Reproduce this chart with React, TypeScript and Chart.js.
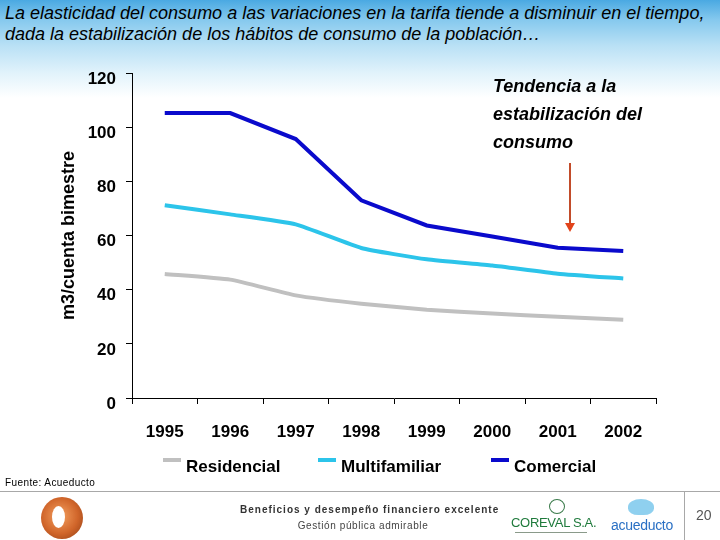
import React, { useEffect, useRef } from "react";
import { Chart, registerables } from "chart.js";

Chart.register(...registerables);

const years = ["1995", "1996", "1997", "1998", "1999", "2000", "2001", "2002"];
const residencial = [45.8, 43.7, 37.9, 34.8, 32.6, 31.2, 30.0, 28.9];
const multifamiliar = [71.2, 67.8, 64.1, 55.4, 51.2, 48.9, 45.9, 44.1];
const comercial = [105.2, 105.2, 95.6, 73.0, 63.7, 59.6, 55.5, 54.3];
const seriesNames = ["Residencial", "Multifamiliar", "Comercial"];
const seriesColors = ["#c0c0c0", "#2cc4ea", "#0a0acc"];
const yMin = 0;
const yMax = 120;
const yStep = 20;

const FONT = "'Liberation Sans', Arial, sans-serif";

const legendMarkerX = [163, 318, 491];

const overlayPlugin = {
  id: "overlayPlugin",
  afterDraw(chart: any) {
    const ctx = chart.ctx as CanvasRenderingContext2D;
    ctx.save();
    // legend
    const datasets = chart.data.datasets;
    datasets.forEach((ds: any, i: number) => {
      const x = legendMarkerX[i];
      ctx.strokeStyle = ds.borderColor;
      ctx.lineWidth = 4;
      ctx.beginPath();
      ctx.moveTo(x, 460);
      ctx.lineTo(x + 18, 460);
      ctx.stroke();
      ctx.fillStyle = "#000";
      ctx.font = `bold 17px ${FONT}`;
      ctx.textBaseline = "middle";
      ctx.textAlign = "left";
      ctx.fillText(ds.label, x + 23, 467);
    });
    // arrow
    ctx.strokeStyle = "#c24c2a";
    ctx.lineWidth = 2;
    ctx.beginPath();
    ctx.moveTo(570, 163);
    ctx.lineTo(570, 225);
    ctx.stroke();
    ctx.fillStyle = "#e2431a";
    ctx.beginPath();
    ctx.moveTo(565, 223);
    ctx.lineTo(575, 223);
    ctx.lineTo(570, 232);
    ctx.closePath();
    ctx.fill();
    ctx.restore();
  },
};

function ChartCanvas() {
  const ref = useRef<HTMLCanvasElement | null>(null);
  useEffect(() => {
    if (!ref.current) return;
    const series = [residencial, multifamiliar, comercial];
    const chart = new Chart(ref.current, {
      type: "line",
      data: {
        labels: years,
        datasets: series.map((d, i) => ({
          label: seriesNames[i],
          data: d,
          borderColor: seriesColors[i],
          backgroundColor: seriesColors[i],
          borderWidth: 4,
          pointRadius: 0,
          tension: i === 2 ? 0 : 0.15,
          fill: false,
        })),
      },
      options: {
        animation: false,
        responsive: false,
        devicePixelRatio: 1,
        layout: { padding: { left: 0, top: 73, right: 64, bottom: 102 } },
        plugins: { legend: { display: false }, tooltip: { enabled: false } },
        scales: {
          x: {
            type: "category",
            offset: true,
            grid: {
              offset: true,
              drawOnChartArea: false,
              tickLength: 6,
              color: "#000",
            },
            border: { color: "#000", width: 1 },
            ticks: {
              color: "#000",
              font: { family: FONT, size: 17, weight: "bold" },
              padding: 18,
              maxRotation: 0,
            },
            afterFit: (s: any) => {
              s.height = 40;
            },
          },
          y: {
            min: yMin,
            max: yMax,
            grid: { drawOnChartArea: false, tickLength: 6, color: "#000" },
            border: { color: "#000", width: 1 },
            ticks: {
              stepSize: yStep,
              color: "#000",
              font: { family: FONT, size: 17, weight: "bold" },
              padding: 10,
              labelOffset: 6,
            },
            title: {
              display: true,
              text: "m3/cuenta bimestre",
              color: "#000",
              font: { family: FONT, size: 18, weight: "bold" },
              padding: { top: 58, bottom: 0 },
            },
            afterFit: (s: any) => {
              s.width = 132;
            },
          },
        },
      },
      plugins: [overlayPlugin],
    } as any);
    return () => chart.destroy();
  }, []);
  return (
    <canvas
      ref={ref}
      width={720}
      height={540}
      style={{ position: "absolute", left: 0, top: 0, width: 720, height: 540 }}
    />
  );
}

export default function App() {
  useEffect(() => {
    document.body.style.margin = "0";
  }, []);
  const abs = (s: React.CSSProperties): React.CSSProperties => ({ position: "absolute", ...s });
  return (
    <div
      style={{
        position: "relative",
        width: 720,
        height: 540,
        overflow: "hidden",
        fontFamily: FONT,
        background:
          "linear-gradient(to bottom, #4aa9e2 0px, #86c9ee 20px, #b8e0f5 45px, #e0f2fb 72px, #ffffff 98px)",
      }}
    >
      <div
        style={abs({
          left: 5,
          top: 3,
          fontSize: 18,
          fontStyle: "italic",
          lineHeight: "21px",
          color: "#000",
          whiteSpace: "nowrap",
        })}
      >
        La elasticidad del consumo a las variaciones en la tarifa tiende a disminuir en el tiempo,
        <br />
        dada la estabilización de los hábitos de consumo de la población…
      </div>
      <ChartCanvas />
      <div
        style={abs({
          left: 493,
          top: 72,
          fontSize: 18,
          fontWeight: "bold",
          fontStyle: "italic",
          lineHeight: "28px",
          color: "#000",
          whiteSpace: "nowrap",
        })}
      >
        Tendencia a la
        <br />
        estabilización del
        <br />
        consumo
      </div>
      {/* footer */}
      <div style={abs({ left: 5, top: 477, fontSize: 10, letterSpacing: 0.4, color: "#000", whiteSpace: "nowrap" })}>
        Fuente: Acueducto
      </div>
      <div style={abs({ left: 0, top: 491, width: 720, height: 1, background: "#a8a8a8" })} />
      <div style={abs({ left: 684, top: 492, width: 1, height: 48, background: "#a8a8a8" })} />
      <div style={abs({ left: 696, top: 507, fontSize: 14, color: "#555", whiteSpace: "nowrap" })}>20</div>
      <div
        style={abs({
          left: 240,
          top: 504,
          width: 250,
          textAlign: "center",
          fontSize: 10,
          fontWeight: "bold",
          letterSpacing: 1,
          color: "#333",
          whiteSpace: "nowrap",
        })}
      >
        Beneficios y desempeño financiero excelente
      </div>
      <div
        style={abs({
          left: 290,
          top: 520,
          width: 146,
          textAlign: "center",
          fontSize: 10,
          letterSpacing: 0.6,
          color: "#444",
          whiteSpace: "nowrap",
        })}
      >
        Gestión pública admirable
      </div>
      {/* left logo */}
      <div
        style={abs({
          left: 41,
          top: 497,
          width: 42,
          height: 42,
          borderRadius: "50%",
          background: "radial-gradient(circle at 45% 45%, #f4a060 0%, #d0652a 55%, #8a3a12 100%)",
        })}
      />
      <div
        style={abs({
          left: 52,
          top: 506,
          width: 13,
          height: 22,
          borderRadius: "50%",
          background: "#fff",
        })}
      />
      {/* COREVAL logo */}
      <div
        style={abs({
          left: 549,
          top: 499,
          width: 14,
          height: 13,
          borderRadius: "50%",
          border: "1px solid #3a7a4a",
        })}
      />
      <div
        style={abs({
          left: 511,
          top: 515,
          width: 80,
          textAlign: "center",
          fontSize: 13,
          color: "#1f7a3c",
          whiteSpace: "nowrap",
          letterSpacing: -0.3,
        })}
      >
        COREVAL S.A.
      </div>
      <div style={abs({ left: 515, top: 532, width: 72, height: 1, background: "#8a9a8a" })} />
      {/* acueducto logo */}
      <div
        style={abs({
          left: 628,
          top: 499,
          width: 26,
          height: 16,
          borderRadius: "50% 50% 40% 40%",
          background: "#8fd0ef",
        })}
      />
      <div
        style={abs({
          left: 610,
          top: 517,
          width: 64,
          textAlign: "center",
          fontSize: 14,
          color: "#2a70c4",
          whiteSpace: "nowrap",
          letterSpacing: -0.3,
        })}
      >
        acueducto
      </div>
    </div>
  );
}
